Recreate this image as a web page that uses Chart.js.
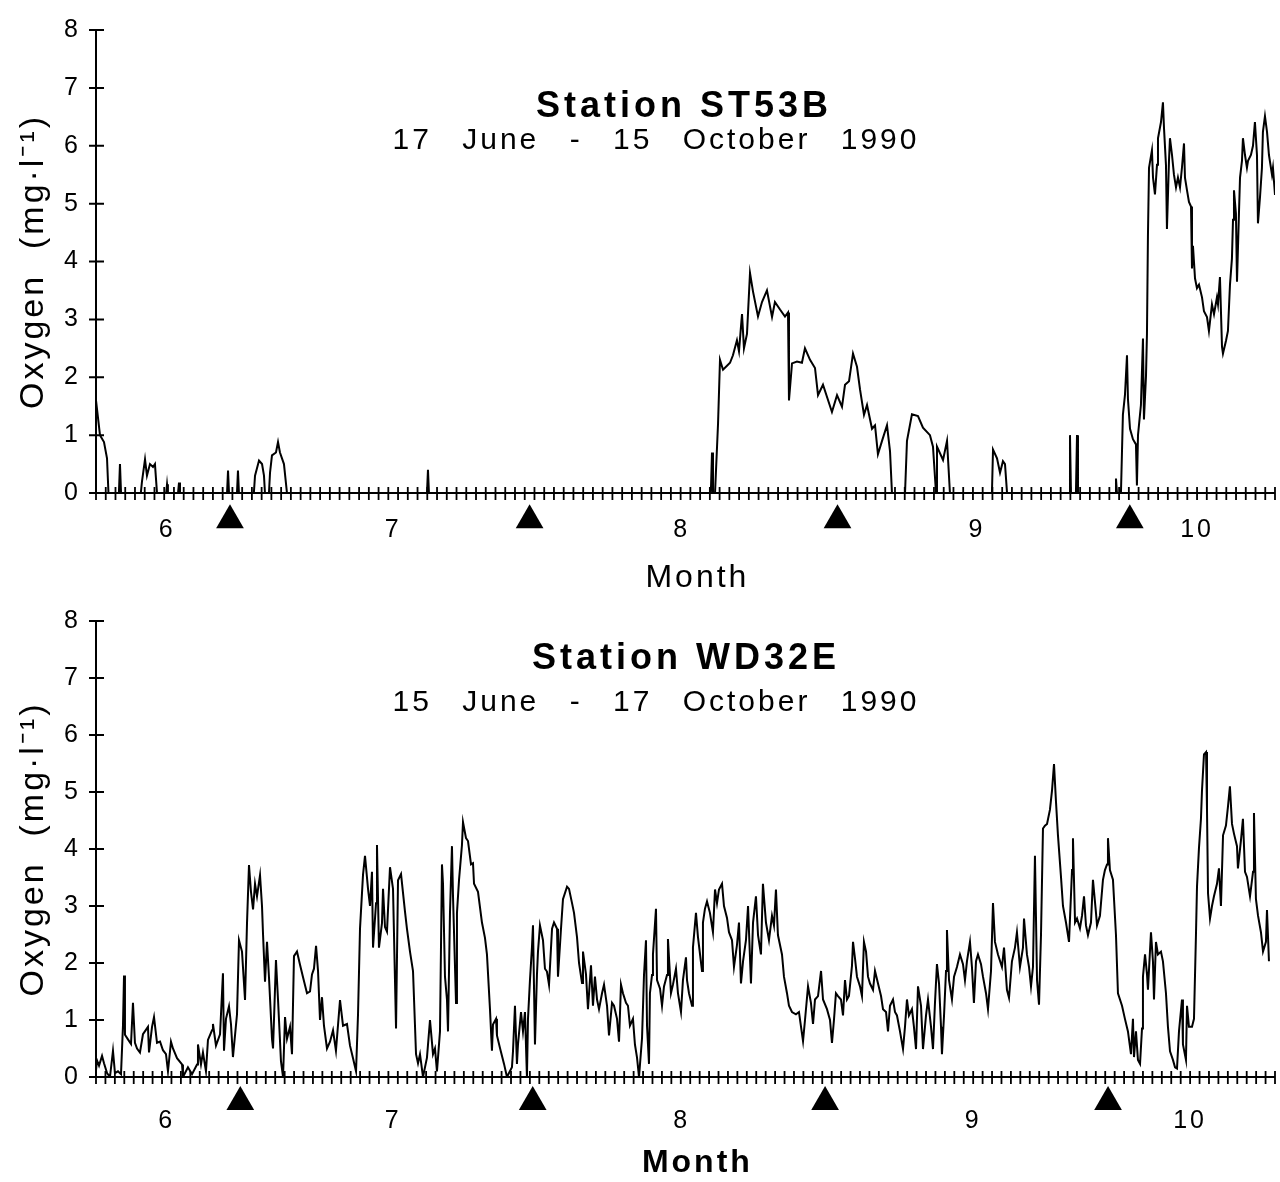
<!DOCTYPE html>
<html>
<head>
<meta charset="utf-8">
<script src="https://cdn.jsdelivr.net/npm/chart.js@4.4.1/dist/chart.umd.min.js"></script>
<style>
  body { margin: 0; background: #fff; width: 1280px; height: 1182px; overflow: hidden;
         font-family: "Liberation Sans", Arial, sans-serif; color: #000; }
  .panel { position: absolute; left: 0; width: 1280px; height: 591px; }
  .panel canvas { position: absolute; left: 0; top: 0; }
  .station { position: absolute; transform: translateX(-50%); white-space: nowrap;
             font-weight: bold; font-size: 36px; line-height: 36px; letter-spacing: 4px; }
  .period { position: absolute; transform: translateX(-50%); white-space: nowrap;
            font-size: 30px; line-height: 30px; letter-spacing: 3px; word-spacing: 19px; }
</style>
</head>
<body>
<div class="panel" style="top:0">
  <canvas id="topChart" width="1280" height="591"></canvas>
  <div class="station" style="left:684px;top:87px">Station ST53B</div>
  <div class="period" style="left:656px;top:124px">17 June - 15 October 1990</div>
</div>
<div class="panel" style="top:591px">
  <canvas id="bottomChart" width="1280" height="591"></canvas>
  <div class="station" style="left:686px;top:48px">Station WD32E</div>
  <div class="period" style="left:656px;top:95px">15 June - 17 October 1990</div>
</div>
<script>
// x = days since start of record, y = oxygen (mg/l)
const st53bDays = [0, 0.41, 0.82, 1.13, 1.28, 2.35, 2.46, 2.57, 4.6, 4.72, 5.03, 5.23, 5.54, 5.85, 6.05, 6.26,
  7.2, 7.29, 7.38, 8.42, 8.52, 8.62, 13.45, 13.55, 13.65, 14.47, 14.57, 14.67,
  16.2, 16.32, 16.73, 17.04, 17.24, 17.34, 17.75, 17.86, 18.06, 18.47, 18.68, 18.88, 19.29, 19.6,
  33.97, 34.07, 34.17,
  63.1, 63.22, 63.32, 63.53, 63.84, 64.04, 64.35, 64.76, 65.07, 65.37, 65.78, 65.99, 66.3, 66.5, 66.81,
  67.12, 67.43, 67.94, 68.35, 68.86, 69.38, 69.68, 70.2, 70.71, 71.02, 71.12, 71.43, 71.94, 72.45, 72.76,
  73.28, 73.79, 74.1, 74.61, 75.53, 76.05, 76.56, 76.87, 77.28, 77.69, 78.1, 78.41, 78.82, 79.13, 79.64,
  79.95, 80.25, 80.67, 81.18, 81.49, 81.69,
  83.03, 83.23, 83.74, 84.36, 84.87, 85.59, 85.9, 86.21, 86.31, 86.93, 87.34, 87.64,
  91.95, 92.06, 92.47, 92.78, 93.08, 93.29, 93.5,
  99.86, 99.96, 100.06, 100.57, 100.68, 100.78, 104.58, 104.68, 104.78,
  105.19, 105.29, 105.39, 105.6, 105.81, 105.91, 106.12, 106.42, 106.73, 106.83, 106.94, 107.24, 107.45,
  107.55, 107.76, 107.86, 107.96, 108.07, 108.37, 108.48, 108.68, 108.89, 108.99, 109.3, 109.5, 109.61,
  109.81, 109.91, 110.12, 110.22, 110.43, 110.63, 110.84, 111.04, 111.25, 111.45, 111.66, 111.76, 111.97,
  112.17, 112.38, 112.48, 112.58, 112.79, 112.99, 113.2, 113.51, 113.71, 114.02, 114.22, 114.53, 114.74,
  115.04, 115.15, 115.35, 115.56, 115.66, 115.97, 116.17, 116.38, 116.58, 116.69, 116.79, 116.99, 117.1,
  117.3, 117.41, 117.61, 117.71, 117.92, 118.12, 118.23, 118.53, 118.74, 118.94, 119.15, 119.25, 119.46,
  119.66, 119.76, 119.97, 120.18, 120.38, 120.69, 120.79, 121.0];
const st53bOxygen = [1.6, 1.0, 0.88, 0.6, 0, 0, 0.5, 0, 0, 0.2, 0.58, 0.3, 0.5, 0.45, 0.5, 0,
  0, 0.15, 0, 0, 0.18, 0, 0, 0.39, 0, 0, 0.39, 0,
  0, 0.3, 0.56, 0.5, 0.3, 0, 0, 0.35, 0.65, 0.7, 0.88, 0.7, 0.5, 0,
  0, 0.4, 0,
  0, 0.7, 0, 0, 1.2, 2.3, 2.13, 2.2, 2.25, 2.38, 2.64, 2.45, 3.09, 2.5, 2.75,
  3.8, 3.48, 3.05, 3.3, 3.5, 3.04, 3.3, 3.17, 3.05, 3.12, 1.6, 2.24, 2.27, 2.25, 2.5,
  2.3, 2.16, 1.69, 1.87, 1.4, 1.69, 1.49, 1.87, 1.93, 2.41, 2.18, 1.79, 1.35, 1.52, 1.11,
  1.17, 0.67, 0.9, 1.17, 0.72, 0,
  0, 0.9, 1.36, 1.33, 1.13, 1.0, 0.8, 0, 0.8, 0.57, 0.9, 0,
  0, 0.75, 0.6, 0.35, 0.55, 0.5, 0,
  0, 1.0, 0, 0, 1.0, 0, 0, 0.25, 0,
  0, 0.67, 1.35, 1.69, 2.38, 1.62, 1.11, 0.93, 0.84, 0.13, 1.0, 1.52, 2.67,
  1.27, 2.02, 2.75, 4.44, 5.62, 5.92, 5.45, 5.16, 5.67, 6.13, 6.41, 6.75, 6.3,
  5.67, 4.56, 5.74, 6.13, 5.84, 5.5, 5.28, 5.45, 5.28, 5.62, 6.04, 5.45, 5.23,
  5.03, 4.95, 3.88, 4.27, 3.71, 3.54, 3.6, 3.38, 3.14, 3.04, 2.8, 3.26, 3.09,
  3.38, 3.26, 3.73, 2.53, 2.41, 2.63, 2.8, 3.6, 4.05, 4.72, 5.23, 4.83, 3.65,
  4.83, 5.45, 5.74, 6.13, 5.84, 5.62, 5.74, 5.84, 6.0, 6.41, 5.84, 4.66, 5.11,
  5.62, 6.24, 6.51, 6.24, 5.84, 5.5, 5.62, 5.15];

const wd32eDays = [0, 0.11, 0.32, 0.64, 0.85, 1.17, 1.48, 1.8, 2.01, 2.33, 2.65, 2.86, 2.97, 3.07, 3.39, 3.71,
  3.92, 4.13, 4.35, 4.66, 4.98, 5.51, 5.62, 5.94, 6.15, 6.47, 6.79, 7.1, 7.42, 7.63, 7.95, 8.16, 8.59,
  9.12, 9.22, 9.75, 10.18, 10.71, 10.81, 11.13, 11.34, 11.66, 11.87, 12.3, 12.4, 12.72, 13.15, 13.46,
  13.57, 13.78, 14.1, 14.31, 14.52, 14.95, 15.16, 15.48, 15.8, 16.01, 16.22, 16.43, 16.65, 16.86, 17.07,
  17.39, 17.6, 17.71, 17.92, 18.13, 18.34, 18.66, 18.77, 19.08, 19.3, 19.61, 19.83, 20.04, 20.25, 20.57,
  20.78, 20.99, 21.31, 21.63, 21.95, 22.37, 22.69, 22.9, 23.11, 23.33, 23.54, 23.75, 23.96, 24.17, 24.49,
  24.81, 25.13, 25.44, 25.87, 26.19, 26.61, 26.93, 27.25, 27.57, 27.78, 27.99, 28.31, 28.52, 28.84, 29.05,
  29.26, 29.37, 29.69, 29.79, 30.0, 30.32, 30.43, 30.64, 30.85, 31.17, 31.49, 31.81, 32.02, 32.34, 32.76,
  32.97, 33.29, 33.61, 33.93, 34.14, 34.35, 34.67, 35.09, 35.41, 35.73, 35.94, 36.15, 36.47, 36.68, 36.79,
  37.0, 37.21, 37.32, 37.53, 37.74, 37.85, 38.17, 38.27, 38.49, 38.8, 38.91, 39.23, 39.44, 39.76, 39.97,
  40.08, 40.5, 40.92, 41.24, 41.45, 41.77, 41.98, 42.09, 42.41, 42.51, 42.83, 43.26, 43.57, 44.1, 44.21,
  44.42, 44.63, 44.74, 45.06, 45.27, 45.48, 45.69, 45.8, 46.01, 46.22, 46.33, 46.54, 46.75, 46.86, 47.07,
  47.39, 47.6, 47.81, 48.03, 48.35, 48.56, 48.88, 48.98, 49.3, 49.51, 49.94, 50.15, 50.47, 50.68, 51.0,
  51.21, 51.53, 51.63, 51.95, 52.16, 52.48, 52.69, 52.9, 53.12, 53.33, 53.65, 53.86, 54.18, 54.39, 54.71,
  54.92, 55.24, 55.45, 55.66, 55.87, 56.19, 56.4, 56.61, 56.93, 57.14, 57.36, 57.57, 57.89, 58.1, 58.31,
  58.42, 58.63, 58.73, 58.95, 59.05, 59.37, 59.48, 59.8, 60.01, 60.22, 60.54, 60.64, 60.96, 61.17, 61.49,
  61.7, 62.02, 62.23, 62.55, 62.66, 62.87, 63.19, 63.29, 63.61, 63.82, 64.25, 64.35, 64.56, 64.78, 65.09,
  65.41, 65.63, 65.84, 66.05, 66.37, 66.58, 66.9, 67.11, 67.43, 67.64, 67.96, 68.17, 68.38, 68.6, 68.91,
  69.13, 69.44, 69.66, 69.97, 70.19, 70.5, 70.71, 71.03, 71.35, 71.67, 71.88, 72.09, 72.3, 72.73, 72.94,
  73.26, 73.47, 73.79, 74.21, 74.53, 74.96, 75.17, 75.49, 75.8, 76.02, 76.23, 76.55, 76.87, 77.08, 77.5,
  77.82, 78.03, 78.24, 78.45, 78.67, 78.98, 79.2, 79.41, 79.62, 79.83, 80.15, 80.26, 80.47, 80.68, 81.0,
  81.21, 81.42, 81.64, 81.85, 82.06, 82.38, 82.59, 82.91, 83.23, 83.44, 83.76, 83.97, 84.18, 84.5, 84.71,
  84.92, 85.24, 85.56, 85.77, 85.98, 86.19, 86.51, 86.72, 86.94, 87.15, 87.47, 87.68, 88.0, 88.21, 88.53,
  88.74, 88.95, 89.16, 89.38, 89.59, 89.69, 89.91, 90.12, 90.22, 90.44, 90.75, 90.97, 91.28, 91.6, 91.92,
  92.13, 92.34, 92.66, 92.87, 93.08, 93.3, 93.51, 93.83, 94.04, 94.36, 94.57, 94.89, 95.1, 95.31, 95.63,
  96.05, 96.27, 96.58, 96.8, 97.11, 97.43, 97.64, 97.96, 98.28, 98.39, 98.7, 98.92, 99.13, 99.34, 99.55,
  99.77, 99.98, 100.19, 100.4, 100.61, 100.83, 101.14, 101.36, 101.57, 101.78, 101.99, 102.31, 102.52, 102.84,
  103.16, 103.48, 103.58, 103.8, 104.01, 104.32, 104.54, 104.75, 104.96, 105.17, 105.49, 105.7, 106.02,
  106.13, 106.44, 106.76, 106.97, 107.19, 107.29, 107.5, 107.82, 108.14, 108.35, 108.78, 109.09, 109.41,
  109.73, 109.94, 110.05, 110.26, 110.47, 110.69, 110.9, 111.0, 111.22, 111.43, 111.53, 111.85, 112.06,
  112.17, 112.38, 112.59, 112.91, 113.12, 113.44, 113.65, 113.87, 114.18, 114.4, 114.61, 114.82, 115.14,
  115.24, 115.56, 115.67, 115.88, 116.2, 116.41, 116.62, 116.73, 116.94, 117.15, 117.26, 117.47, 117.69,
  117.79, 117.9, 118.11, 118.32, 118.53, 118.85, 119.06, 119.27, 119.49, 119.8, 120.01, 120.22, 120.44,
  120.65, 120.97, 121.07, 121.39, 121.6, 121.82, 122.03, 122.35, 122.67, 122.77, 122.98, 123.2, 123.51,
  123.73, 124.04, 124.15, 124.36];
const wd32eOxygen = [0.12, 0.29, 0.2, 0.37, 0.24, 0.07, 0, 0.46, 0.07, 0.1, 0.05, 0.9, 1.78, 0.74, 0.66, 0.58,
  1.3, 0.6, 0.5, 0.43, 0.75, 0.88, 0.43, 0.88, 1.05, 0.6, 0.62, 0.47, 0.4, 0.1, 0.62, 0.5, 0.33,
  0.22, 0, 0.17, 0.05, 0.22, 0.57, 0.22, 0.43, 0.1, 0.65, 0.82, 0.93, 0.55, 0.75, 1.82,
  0.46, 1.02, 1.24, 0.93, 0.35, 1.1, 2.4, 2.2, 1.35, 2.7, 3.72, 3.25, 2.94, 3.39, 3.17,
  3.54, 3.0, 2.5, 1.67, 2.37, 1.75, 0.67, 0.5, 2.05, 1.35, 0.28, 0, 1.05, 0.67, 0.88,
  0.4, 2.12, 2.2, 1.97, 1.75, 1.47, 1.5, 1.8, 1.9, 2.3, 1.86, 1.0, 1.4, 0.9, 0.5,
  0.62, 0.82, 0.46, 1.35, 0.9, 0.93, 0.55, 0.33, 0.1, 1.1, 2.6, 3.55, 3.88, 3.3, 3.0,
  3.6, 2.27, 3.05, 4.07, 2.27, 2.7, 3.3, 2.63, 2.55, 3.68, 3.3, 0.85, 3.45, 3.56, 2.9,
  2.6, 2.2, 1.86, 0.4, 0.24, 0.4, 0, 0.34, 1.0, 0.4, 0.5, 0.1, 0.8, 3.73, 3.39,
  1.76, 1.36, 0.8, 2.88, 4.05, 3.17, 1.3, 2.88, 3.46, 4.07, 4.47, 4.19, 4.14, 3.73, 3.75,
  3.39, 3.25, 2.71, 2.44, 2.15, 1.19, 0.46, 0.92, 1.02, 0.73, 0.51, 0.23, 0, 0.17, 0.45,
  1.25, 0.23, 0.57, 1.14, 0.8, 1.14, 0, 1.02, 1.7, 2.27, 2.66, 0.57, 1.79, 2.2, 2.66,
  2.4, 1.9, 1.85, 1.62, 2.6, 2.71, 2.6, 1.76, 2.6, 3.12, 3.34, 3.3, 3.05, 2.88, 2.45,
  2.0, 1.65, 2.2, 1.8, 1.19, 1.96, 1.25, 1.76, 1.36, 1.19, 1.47, 1.62, 1.25, 0.73, 1.3,
  1.25, 1.02, 0.62, 1.62, 1.47, 1.3, 1.25, 0.9, 1.02, 0.57, 0.34, 0, 0.68, 1.79, 2.4,
  0.9, 0.23, 1.47, 1.79, 2.15, 2.95, 1.7, 1.55, 1.25, 1.59, 1.79, 2.42, 1.47, 1.62, 1.9,
  1.47, 1.14, 1.7, 2.1, 1.7, 1.47, 1.25, 2.27, 2.88, 2.46, 1.86, 2.71, 2.95, 3.08, 2.88,
  2.54, 3.29, 3.05, 3.29, 3.39, 3.0, 2.79, 2.54, 2.4, 1.93, 2.32, 2.71, 1.64, 2.03, 2.4,
  3.0, 1.64, 2.71, 3.17, 2.49, 2.15, 3.39, 2.71, 2.4, 2.83, 2.66, 3.29, 2.49, 2.15, 1.76,
  1.47, 1.25, 1.14, 1.1, 1.14, 0.63, 1.0, 1.59, 1.3, 0.93, 1.36, 1.42, 1.86, 1.36, 1.19,
  1.0, 0.6, 1.0, 1.47, 1.42, 1.36, 1.08, 1.7, 1.36, 1.42, 1.95, 2.37, 2.08, 1.76, 1.59,
  1.42, 2.37, 2.2, 1.76, 1.64, 1.53, 1.86, 1.64, 1.42, 1.19, 1.14, 0.8, 1.25, 1.36, 1.14,
  1.08, 0.8, 0.49, 0.88, 1.36, 1.08, 1.19, 0.88, 0.49, 1.59, 1.25, 0.49, 1.08, 1.36, 0.88,
  0.49, 1.3, 1.98, 1.64, 0.88, 0.4, 1.08, 1.86, 2.58, 1.7, 1.36, 1.76, 1.93, 2.15, 1.98,
  1.7, 2.03, 2.37, 1.93, 1.3, 2.03, 2.15, 1.98, 1.76, 1.47, 1.19, 1.86, 3.05, 2.37, 2.15,
  1.93, 2.27, 1.53, 1.39, 2.03, 2.27, 2.54, 1.93, 2.27, 2.78, 2.15, 1.93, 1.59, 1.93, 3.88,
  1.7, 1.27, 2.49, 4.36, 4.41, 4.44, 4.69, 5.03, 5.49, 4.83, 4.24, 3.51, 3.0, 2.71,
  2.37, 3.63, 4.19, 2.71, 2.78, 2.61, 2.83, 3.17, 2.66, 2.49, 2.71, 3.46, 2.88,
  2.66, 2.83, 3.46, 3.63, 3.73, 4.19, 3.63, 3.46, 2.49, 1.47, 1.25, 1.02, 0.8,
  0.4, 1.02, 0.35, 0.8, 0.3, 0.23, 0.85, 1.76, 2.15, 1.8, 1.53, 2.54, 2.03,
  1.36, 2.37, 2.15, 2.2, 2.03, 1.47, 0.88, 0.45, 0.3, 0.17, 0.15, 0.8, 1.36,
  0.57, 0.3, 1.25, 0.88, 0.88, 1.02, 2.49, 3.34, 4.02, 4.53, 5.03, 5.66, 5.7,
  4.69, 3.22, 2.78, 3.0, 3.17, 3.39, 3.66, 3.0, 4.24, 4.41, 4.74, 5.1, 4.44,
  4.27, 4.05, 3.66, 4.15, 4.53, 3.6, 3.51, 3.17, 3.6, 4.63, 3.12, 2.83, 2.54,
  2.2, 2.37, 2.93, 2.03];

const monthLabels = ['6', '7', '8', '9', '10'];
const st53bMonthTicks = [7.3, 30.5, 60.1, 90.4, 113];
const wd32eMonthTicks = [7.5, 31.5, 62.1, 93.0, 116.0];
const st53bMarkers = [13.75, 44.5, 76.1, 106.1];
const wd32eMarkers = [15.3, 46.3, 77.3, 107.3];
const yTickValues = [0, 1, 2, 3, 4, 5, 6, 7, 8];

const FONT = '"Liberation Sans", Arial, sans-serif';

// axis lines with ticks that cross them, like the old plotting program
const crossTicks = {
  id: 'crossTicks',
  beforeDraw(chart) {
    chart.ctx.letterSpacing = '3px';
  },
  afterDatasetsDraw(chart) {
    const { ctx, chartArea: a, scales: { x, y } } = chart;
    ctx.save();
    ctx.strokeStyle = '#000';
    ctx.lineWidth = 2;
    ctx.beginPath();
    ctx.moveTo(a.left, a.top);
    ctx.lineTo(a.left, a.bottom);
    ctx.moveTo(a.left - 6, a.bottom);
    ctx.lineTo(a.right, a.bottom);
    yTickValues.forEach(v => {
      const py = y.getPixelForValue(v);
      ctx.moveTo(a.left - 7, py);
      ctx.lineTo(a.left + 8, py);
    });
    ctx.stroke();
    ctx.lineWidth = 1.8;
    ctx.beginPath();
    for (let d = 0; d <= x.max; d++) {
      const px = x.getPixelForValue(d);
      ctx.moveTo(px, a.bottom - 6);
      ctx.lineTo(px, a.bottom + 7);
    }
    ctx.stroke();
    ctx.restore();
  }
};

function makePanel(id, days, oxygen, monthTicks, markers, markerY, padTop, axisHeight, monthWeight, monthPad, titlePad) {
  new Chart(document.getElementById(id), {
    type: 'line',
    data: {
      datasets: [{
        data: days.map((d, i) => ({ x: d, y: oxygen[i] })),
        borderColor: '#000',
        borderWidth: 2,
        pointRadius: 0,
        tension: 0
      }, {
        type: 'scatter',
        data: markers.map(d => ({ x: d, y: markerY })),
        pointStyle: 'triangle',
        pointRadius: 16,
        hoverRadius: 40, // widens the in-area test so the markers below the axis still draw
        backgroundColor: '#000',
        borderColor: '#000',
        borderWidth: 0,
        clip: false
      }]
    },
    options: {
      responsive: false,
      animation: false,
      events: [],
      layout: { autoPadding: false, padding: { top: padTop, right: 5, left: 0, bottom: 0 } },
      plugins: { legend: { display: false }, tooltip: { enabled: false } },
      scales: {
        x: {
          type: 'linear',
          min: 0,
          max: Math.ceil(days[days.length - 1]),
          afterBuildTicks: s => { s.ticks = monthTicks.map(v => ({ value: v })); },
          afterFit: s => { s.height = axisHeight; },
          grid: { display: false, drawTicks: false },
          border: { display: false },
          ticks: {
            autoSkip: false, maxRotation: 0, padding: monthPad, color: '#000',
            font: { family: FONT, size: 25 },
            callback: (v, i) => monthLabels[i]
          },
          title: {
            display: true, text: '  Month', color: '#000',
            font: { family: FONT, size: 32, weight: monthWeight, lineHeight: 1 },
            padding: { top: 0, bottom: titlePad }
          }
        },
        y: {
          min: 0,
          max: 8,
          afterBuildTicks: s => { s.ticks = yTickValues.map(v => ({ value: v })); },
          afterFit: s => { s.width = 96; },
          grid: { display: false, drawTicks: false },
          border: { display: false },
          ticks: { padding: 15, color: '#000', font: { family: FONT, size: 25 } },
          title: {
            display: true, text: 'Oxygen  (mg·l⁻¹)', color: '#000',
            font: { family: FONT, size: 34, lineHeight: 1.2 },
            padding: { top: 13, bottom: 0 }
          }
        }
      }
    },
    plugins: [crossTicks]
  });
}

makePanel('topChart', st53bDays, st53bOxygen, st53bMonthTicks, st53bMarkers, -0.47, 19, 98, 'normal', 22, -3);
makePanel('bottomChart', wd32eDays, wd32eOxygen, wd32eMonthTicks, wd32eMarkers, -0.44, 14, 105, 'bold', 29, 3);
</script>
</body>
</html>
